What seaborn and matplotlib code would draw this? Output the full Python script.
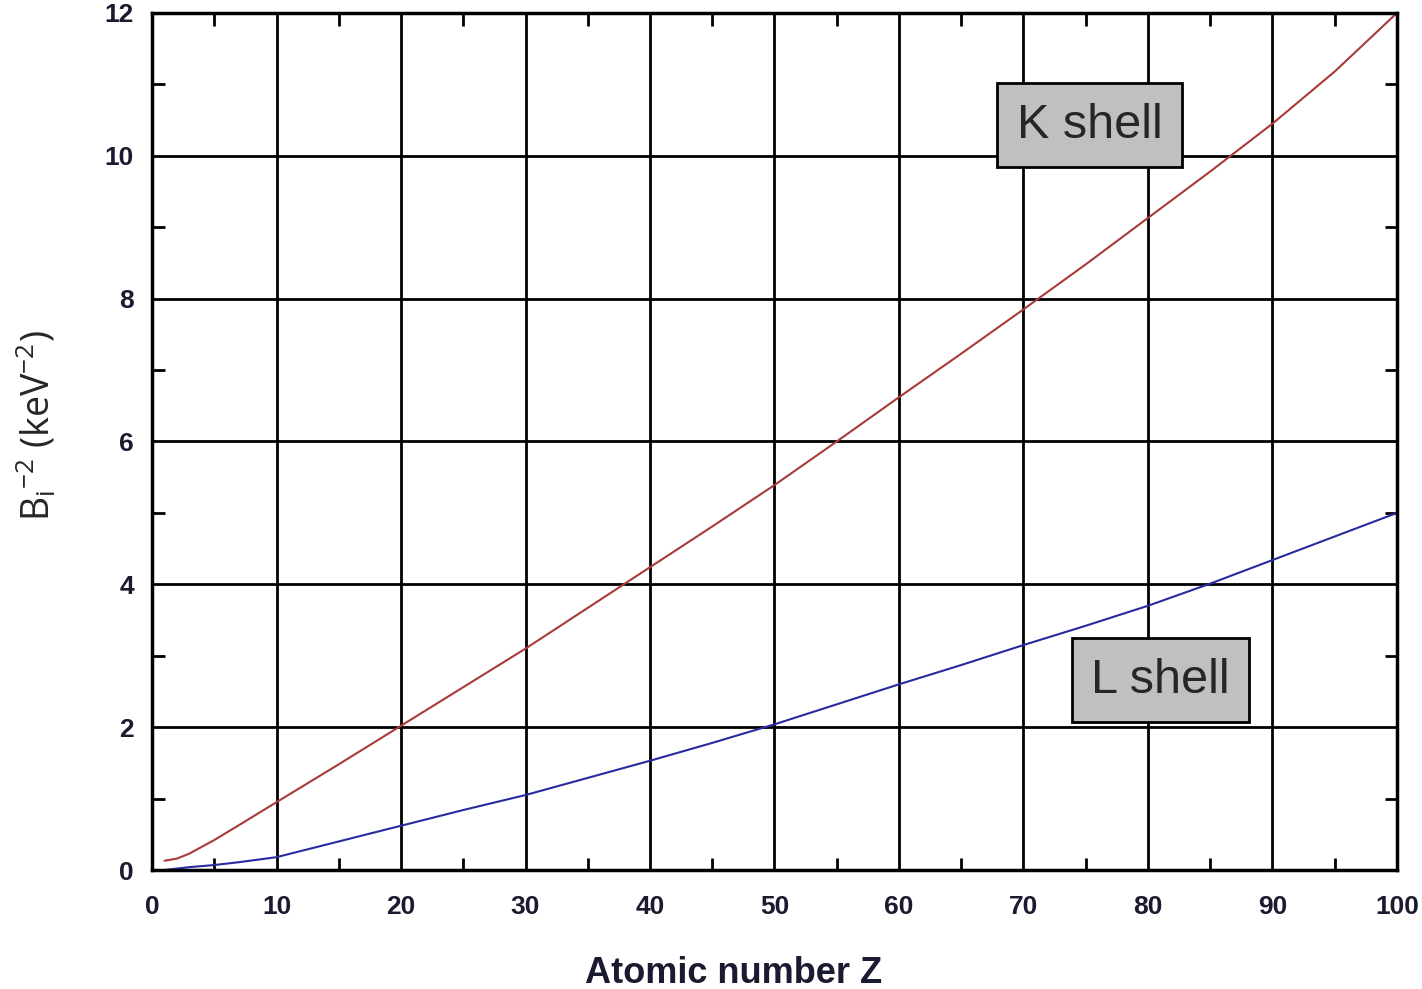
import matplotlib
matplotlib.use("Agg")
import matplotlib.pyplot as plt
import seaborn as sns
import pandas as pd
from matplotlib.ticker import MultipleLocator

Z = [1, 2, 3, 5, 7, 10, 15, 20, 25, 30, 35, 40, 45, 50, 55, 60, 65, 70, 75, 80, 85, 90, 95, 100]
K_shell = [0.13, 0.16, 0.23, 0.42, 0.63, 0.95, 1.48, 2.02, 2.56, 3.10, 3.67, 4.24, 4.81, 5.39, 6.00, 6.62, 7.23, 7.85, 8.48, 9.13, 9.78, 10.45, 11.18, 12.0]
L_shell = [0.0, 0.02, 0.04, 0.07, 0.11, 0.18, 0.40, 0.62, 0.84, 1.05, 1.29, 1.53, 1.78, 2.04, 2.32, 2.60, 2.87, 3.15, 3.42, 3.70, 4.01, 4.34, 4.67, 5.00]
x_ticks = [0, 10, 20, 30, 40, 50, 60, 70, 80, 90, 100]
y_ticks = [0, 2, 4, 6, 8, 10, 12]

df = pd.concat([
    pd.DataFrame({"Z": Z, "B": K_shell, "shell": "K shell"}),
    pd.DataFrame({"Z": Z, "B": L_shell, "shell": "L shell"}),
])

sns.set_style("white")
plt.rcParams['font.family'] = ['Liberation Sans', 'DejaVu Sans']
plt.rcParams['mathtext.fontset'] = 'custom'
plt.rcParams['mathtext.rm'] = 'Open Sans'
plt.rcParams['mathtext.it'] = 'Open Sans'

fig = plt.figure(figsize=(14.22, 9.89), dpi=100)
ax = fig.add_axes([0.1069, 0.1203, 0.8755, 0.8666])

sns.lineplot(data=df, x="Z", y="B", hue="shell",
             palette={"K shell": "#a83a3a", "L shell": "#2a2aa0"},
             linewidth=1.5, legend=False, ax=ax)

ax.set_xlim(0, 100)
ax.set_ylim(0, 12)
ax.set_xticks(x_ticks)
ax.set_yticks(y_ticks)
ax.xaxis.set_minor_locator(MultipleLocator(5))
ax.yaxis.set_minor_locator(MultipleLocator(1))
ax.grid(True, which="major", color="black", linewidth=2)
ax.set_axisbelow(True)
ax.tick_params(which="major", direction="in", length=0, labelsize=19, colors="black")
ax.tick_params(axis="x", which="major", pad=18)
ax.tick_params(axis="y", which="major", pad=13)
ax.tick_params(which="minor", direction="in", length=9, width=2,
               top=True, right=True, bottom=True, left=True, color="black")
for lab in ax.get_xticklabels() + ax.get_yticklabels():
    lab.set_fontweight("bold")
    lab.set_color("#1a1a30")
for s in ax.spines.values():
    s.set_visible(True)
    s.set_color("black")
    s.set_linewidth(2.5)

ax.set_xlabel("Atomic number Z", fontsize=26, fontweight="bold", color="#1a1a30", va="center")
ax.xaxis.set_label_coords(0.467, -0.121)
ax.set_ylabel(r"B$_\mathrm{i}$$^\mathrm{-2}$ (keV$^\mathrm{-2}$)",
              fontsize=27, family=["Open Sans", "DejaVu Sans"], va="center")
ax.yaxis.set_label_coords(-0.093, 0.519)

box = dict(boxstyle="square,pad=0.4", facecolor="#c0c0c0", edgecolor="black", linewidth=2)
ax.text(75.3, 10.43, "K shell", fontsize=35, ha="center", va="center", bbox=box, zorder=5)
ax.text(81.0, 2.66, "L shell", fontsize=35, ha="center", va="center", bbox=box, zorder=5)

fig.savefig("out.png", dpi=100)
